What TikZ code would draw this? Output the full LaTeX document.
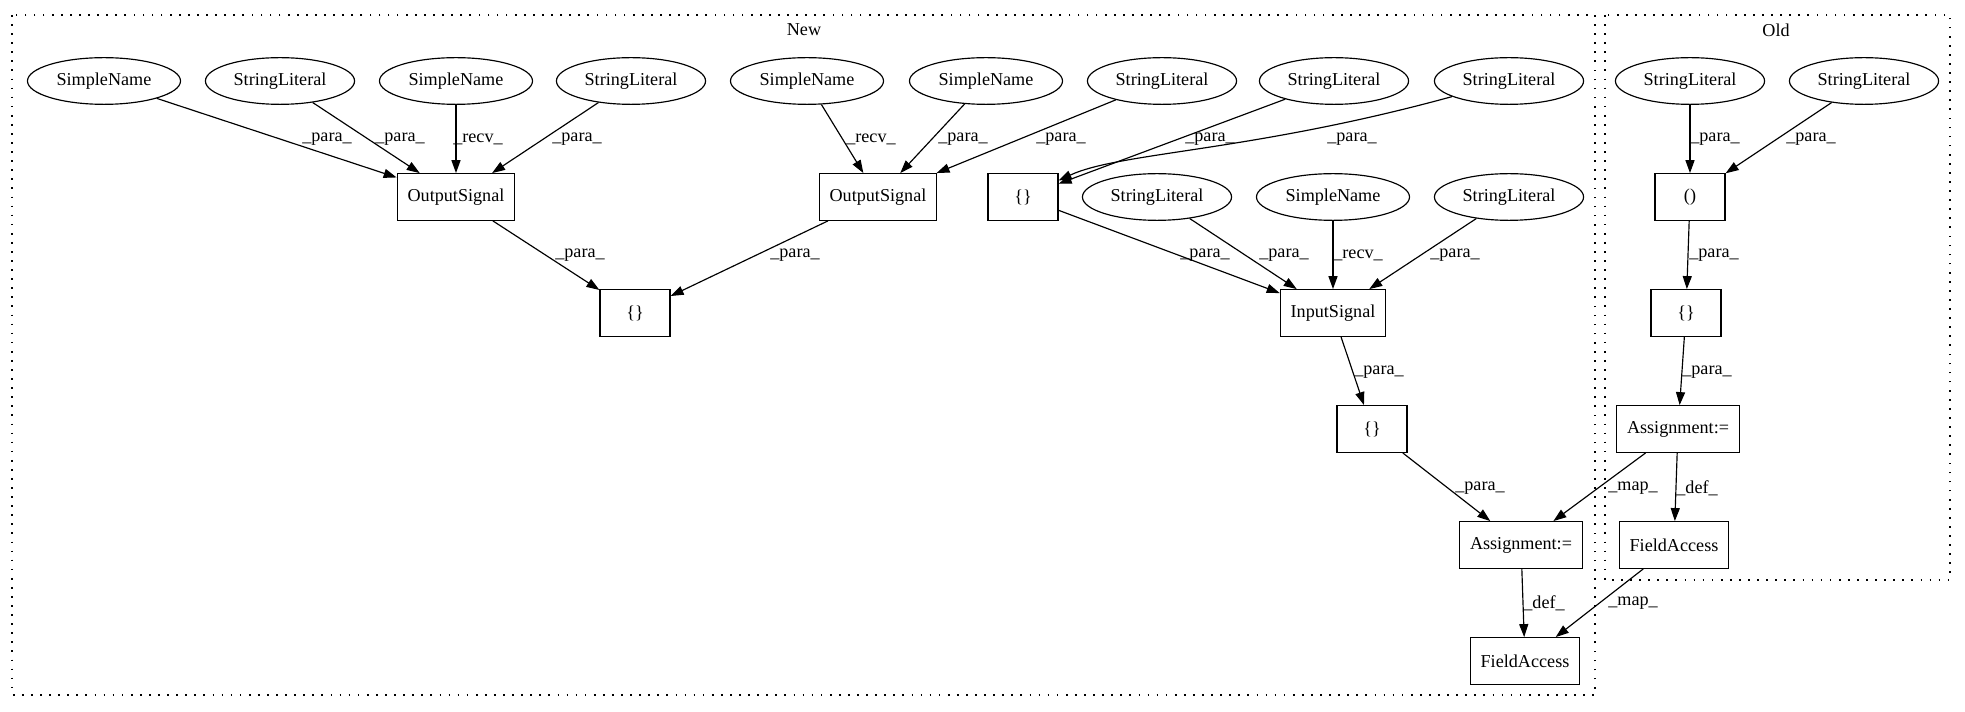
\documentclass[tikz,border=0pt]{standalone}
\usepackage{fontspec}
\setmainfont{Liberation Serif}
\usetikzlibrary{shapes.geometric,arrows.meta}

\tikzset{
	every ast/.style={draw, font=\fontsize{14pt}{16pt}\selectfont, inner sep=0pt, minimum height=36pt},
	sname/.style={ellipse, minimum width=118pt},
	slit/.style={ellipse, minimum width=115pt},
	ablock/.style={rectangle, minimum width=54pt, inner xsep=8pt},
	elabel/.style={font=\fontsize{14pt}{16pt}\selectfont, inner sep=0pt},
	cluster/.style={draw, line width=1pt, dash pattern=on 1.3pt off 5.7pt}
}

\begin{document}
\begin{tikzpicture}[x=0.7711pt, y=-0.7711pt, line width=0.9pt, >={Triangle[length=10pt, width=7pt]}]
	\useasboundingbox (0,0) rectangle (1965,712);
	
	\draw [cluster] (12,15) rectangle (1595,695);
	\draw [cluster] (1605,15) rectangle (1950,580);
	\node [elabel] (new) at (804,30) {New};
	\node [elabel] (old) at (1776,30) {Old};
	
	% top row
	\foreach \n/\t/\s/\x in {sn1/SimpleName/sname/104, sl1/StringLiteral/slit/280, sn2/SimpleName/sname/456,
		sl2/StringLiteral/slit/631, sn3/SimpleName/sname/807, sn4/SimpleName/sname/986,
		sl3/StringLiteral/slit/1162, sl4/StringLiteral/slit/1334, sl5/StringLiteral/slit/1509,
		sl6/StringLiteral/slit/1690, sl7/StringLiteral/slit/1864}
	\node [every ast, \s] (\n) at (\x,81) {\t};
	
	\node [every ast, ablock] (out1) at (456,197) {OutputSignal};
	\node [every ast, ablock] (out2) at (878,197) {OutputSignal};
	\node [every ast, ablock] (arr2) at (1023,197) {\{\}};
	\node [every ast, slit] (sl8) at (1157,197) {StringLiteral};
	\node [every ast, sname] (sn5) at (1333,197) {SimpleName};
	\node [every ast, slit] (sl9) at (1509,197) {StringLiteral};
	\node [every ast, ablock] (par) at (1690,197) {()};
	
	\node [every ast, ablock] (arr1) at (635,313) {\{\}};
	\node [every ast, ablock] (insig) at (1333,313) {InputSignal};
	\node [every ast, ablock] (arr4) at (1686,313) {\{\}};
	
	\node [every ast, ablock] (arr3) at (1372,429) {\{\}};
	\node [every ast, ablock] (asg2) at (1678,429) {Assignment:=};
	
	\node [every ast, ablock] (asg1) at (1521,545) {Assignment:=};
	\node [every ast, ablock] (fa2) at (1674,545) {FieldAccess};
	
	\node [every ast, ablock] (fa1) at (1525,661) {FieldAccess};
	
	% edges
	\foreach \a/\b/\l/\x/\y in {sn1/out1/para/327/139, sl1/out1/para/400/139, sn2/out1/recv/478/139,
		sl2/out1/para/577/139, out1/arr1/para/580/255, sn3/out2/recv/871/139,
		sn4/out2/para/963/139, sl3/out2/para/1061/139, out2/arr1/para/795/255,
		sl4/arr2/para/1210/139, arr2/insig/para/1205/255, sl8/insig/para/1284/255,
		sn5/insig/recv/1358/255, sl9/insig/para/1455/255, insig/arr3/para/1379/372,
		arr3/asg1/para/1480/488, asg1/fa1/def/1544/603, sl6/par/para/1715/139,
		sl7/par/para/1811/139, par/arr4/para/1714/255, arr4/asg2/para/1707/372,
		asg2/fa2/def/1697/488, asg2/asg1/map/1633/488, fa2/fa1/map/1633/603}
	{
		\draw [->] (\a) -- (\b);
		\node [elabel] (lbl-\a-\b) at (\x,\y) {\_\l\_};
	}
	
	\draw [->] (sl5) .. controls (1250,152) and (1120,152) .. (arr2);
	\node [elabel] (lbl-sl5-arr2) at (1352,139) {\_para\_};
\end{tikzpicture}
\end{document}
